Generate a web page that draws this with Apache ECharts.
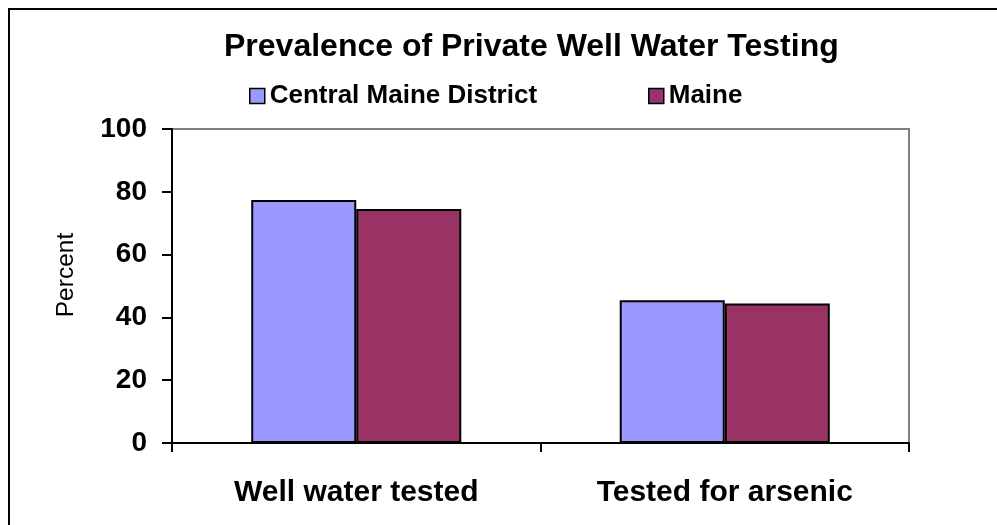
<!DOCTYPE html>
<html>
<head>
<meta charset="utf-8">
<script src="https://cdn.jsdelivr.net/npm/echarts@6/dist/echarts.min.js"></script>
<style>
html,body{margin:0;padding:0;background:#fff;}
#chart{width:997px;height:525px;}
</style>
</head>
<body>
<div id="chart"></div>
<script>
var titleText = 'Prevalence of Private Well Water Testing';
var categories = ['Well water tested', 'Tested for arsenic'];
var seriesNames = ['Central Maine District', 'Maine'];
var centralMaine = [77.4, 45.5];
var maine = [74.5, 44.4];
var yTicks = [0, 20, 40, 60, 80, 100];
var yAxisName = 'Percent';

var FONT = '"Liberation Sans", Arial, sans-serif';
var chart = echarts.init(document.getElementById('chart'));
var legendCommon = {
  orient: 'horizontal',
  padding: 0,
  itemWidth: 15,
  itemHeight: 15,
  itemGap: 0,
  icon: 'rect',
  textStyle: {fontFamily: FONT, fontWeight: 'bold', fontSize: 26, color: '#000'},
  itemStyle: {borderColor: '#000', borderWidth: 1.5}
};
chart.setOption({
  animation: false,
  backgroundColor: '#fff',
  title: {
    text: titleText,
    left: 224,
    top: 31,
    padding: 0,
    textStyle: {fontFamily: FONT, fontWeight: 'bold', fontSize: 32, color: '#000'}
  },
  legend: [
    Object.assign({}, legendCommon, {data: [seriesNames[0]], left: 249, top: 83}),
    Object.assign({}, legendCommon, {data: [seriesNames[1]], left: 648, top: 83})
  ],
  graphic: [{
    type: 'rect',
    shape: {x: 9, y: 9, width: 1000, height: 540},
    style: {fill: 'none', stroke: '#000', lineWidth: 2},
    silent: true
  }],
  grid: {
    left: 172, right: 88, top: 129, bottom: 82,
    show: true, borderColor: '#808080', borderWidth: 2, backgroundColor: 'transparent'
  },
  xAxis: {
    type: 'category',
    data: categories,
    axisLine: {lineStyle: {color: '#000', width: 2}},
    axisTick: {show: true, interval: 0, length: 9, lineStyle: {color: '#000', width: 2}},
    axisLabel: {interval: 0, fontFamily: FONT, fontWeight: 'bold', fontSize: 30, color: '#000', margin: 35},
    splitLine: {show: false}
  },
  yAxis: {
    type: 'value',
    min: yTicks[0],
    max: yTicks[yTicks.length - 1],
    interval: 20,
    name: yAxisName,
    nameLocation: 'middle',
    nameGap: 93,
    nameRotate: 90,
    nameTextStyle: {fontFamily: FONT, fontSize: 24.5, color: '#000', padding: [0, 0, 0, 22]},
    axisLine: {show: true, lineStyle: {color: '#000', width: 2}},
    axisTick: {show: true, length: 10, lineStyle: {color: '#000', width: 2}},
    axisLabel: {fontFamily: FONT, fontWeight: 'bold', fontSize: 28, color: '#000', margin: 25},
    splitLine: {show: false}
  },
  series: [
    {
      name: seriesNames[0], type: 'bar', data: centralMaine,
      barGap: '0%', barCategoryGap: '43%',
      itemStyle: {color: '#9999FF', borderColor: '#000', borderWidth: 2}
    },
    {
      name: seriesNames[1], type: 'bar', data: maine,
      barGap: '0%', barCategoryGap: '43%',
      itemStyle: {color: '#993366', borderColor: '#000', borderWidth: 2}
    }
  ]
});
</script>
</body>
</html>
